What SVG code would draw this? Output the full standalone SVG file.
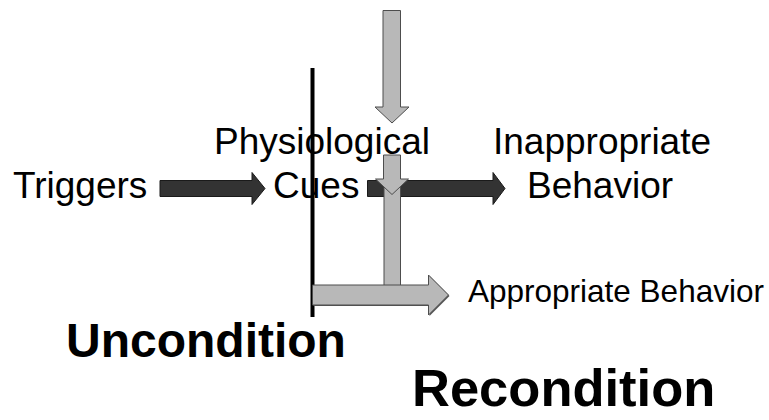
<svg xmlns="http://www.w3.org/2000/svg" width="769" height="420" viewBox="0 0 769 420">
<style>
.t{font-family:"Liberation Sans",Arial,sans-serif;fill:#000}
.big{font-size:37px}
.b{font-weight:bold}
.dark{fill:#333333;stroke:#1a1a1a;stroke-width:1}
.gray{fill:#b8b8b8;stroke:#4d4d4d;stroke-width:1}
.shadow{fill:#555555}
</style>
<rect width="769" height="420" fill="#ffffff"/>
<g id="triggers"><text class="t big" x="13" y="198">Triggers</text></g>
<g id="physiological-cues">
<text class="t big" x="214" y="154">Physiological</text>
<text class="t big" x="273" y="198">Cues</text>
</g>
<g id="inappropriate-behavior">
<text class="t big" x="493" y="154">Inappropriate</text>
<text class="t big" x="527" y="198">Behavior</text>
</g>
<g id="appropriate-behavior"><text class="t" style="font-size:31.5px" x="468" y="302">Appropriate Behavior</text></g>
<g id="uncondition"><text class="t b" style="font-size:48px" x="66" y="357">Uncondition</text></g>
<g id="recondition"><text class="t b" style="font-size:52.5px" x="412" y="406">Recondition</text></g>
<g id="connectors">
<polygon class="dark" points="160,180.5 252,180.5 252,172.5 265,188.5 252,204.5 252,196.5 160,196.5"/>
<polygon class="dark" points="367.5,180.5 493,180.5 493,172.5 505,188.5 493,204.5 493,196.5 367.5,196.5"/>
<polygon class="gray" points="383,10.5 400.5,10.5 400.5,107 409,107 392,123 375,107 383,107"/>
<rect id="divider" x="310.5" y="68" width="4" height="249" fill="#000"/>
<rect class="gray" x="384" y="160" width="16.5" height="125.5"/>
<polygon class="shadow" points="313.5,286 429.5,286 429.5,276 449.5,296 429.5,316 429.5,306 313.5,306"/>
<polygon class="gray" points="312.5,285 428.5,285 428.5,275 448.5,295 428.5,315 428.5,305 312.5,305"/>
<polygon class="gray" points="383.5,155 400.5,155 400.5,179 408.5,179 392,194.5 375.5,179 383.5,179"/>
</g>
</svg>
